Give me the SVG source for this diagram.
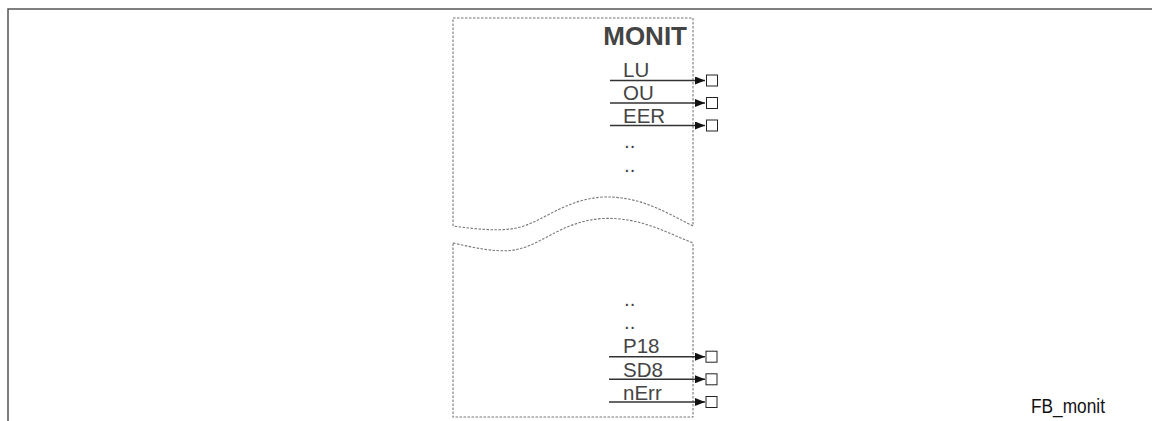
<svg xmlns="http://www.w3.org/2000/svg" width="1152" height="421" viewBox="0 0 1152 421">
<defs>
<style>
.frame{fill:none;stroke:#555;stroke-width:1.5}
.box{fill:none;stroke:#777;stroke-width:1.1;stroke-dasharray:2.5,1.5}
.lbl{font-family:"Liberation Sans",Arial,sans-serif;font-size:20.5px;fill:#444}
.title{font-family:"Liberation Sans",Arial,sans-serif;font-size:26px;font-weight:bold;fill:#444}
.wire{stroke:#333;stroke-width:1.5;fill:none}
.pin{fill:#fff;stroke:#222;stroke-width:1}
</style>
<marker id="arr" markerWidth="10" markerHeight="8" refX="10" refY="4" orient="auto" markerUnits="userSpaceOnUse">
<path d="M0,0 L10,4 L0,8 Z" fill="#111"/>
</marker>
</defs>
<g id="frame">
<path class="frame" d="M8,421 V9 H1152"/>
</g>
<g id="monit-block">
<path class="box" d="M453,226 V18 H693 V226 C665,212 640,196 603,197 C560,200 540,226 510,229 C495,231 475,229 453,226"/>
<path class="box" d="M453,243 C475,248 495,252 510,250.5 C540,248 560,221 603,218.5 C640,217 665,232 693,243 V417 H453 Z"/>
<text class="title" x="687" y="45" text-anchor="end">MONIT</text>
<text class="lbl" x="623" y="76.7">LU</text>
<text class="lbl" x="623" y="100">OU</text>
<text class="lbl" x="623" y="122.7">EER</text>
<text class="lbl" x="624" y="147.5">..</text>
<text class="lbl" x="624" y="171.5">..</text>
<text class="lbl" x="624" y="305.5">..</text>
<text class="lbl" x="624" y="329">..</text>
<text class="lbl" x="623" y="353.3">P18</text>
<text class="lbl" x="623" y="376.7">SD8</text>
<text class="lbl" x="623" y="400">nErr</text>
</g>
<g id="connectors">
<line class="wire" x1="610" y1="80.5" x2="705" y2="80.5" marker-end="url(#arr)"/>
<line class="wire" x1="610" y1="103" x2="705" y2="103" marker-end="url(#arr)"/>
<line class="wire" x1="610" y1="125.5" x2="705" y2="125.5" marker-end="url(#arr)"/>
<line class="wire" x1="609" y1="356.7" x2="705" y2="356.7" marker-end="url(#arr)"/>
<line class="wire" x1="609" y1="379.3" x2="705" y2="379.3" marker-end="url(#arr)"/>
<line class="wire" x1="609" y1="402" x2="705" y2="402" marker-end="url(#arr)"/>
</g>
<g id="pins">
<rect class="pin" x="706.5" y="75" width="11" height="11"/>
<rect class="pin" x="706.5" y="97.5" width="11" height="11"/>
<rect class="pin" x="706.5" y="120" width="11" height="11"/>
<rect class="pin" x="706" y="351.2" width="11" height="11"/>
<rect class="pin" x="706" y="373.8" width="11" height="11"/>
<rect class="pin" x="706" y="396.5" width="11" height="11"/>
</g>
<g id="caption">
<text x="1031" y="412.7" textLength="74" lengthAdjust="spacingAndGlyphs" style="font-family:'Liberation Sans',Arial,sans-serif;font-size:20px;fill:#111">FB_monit</text>
</g>
</svg>
